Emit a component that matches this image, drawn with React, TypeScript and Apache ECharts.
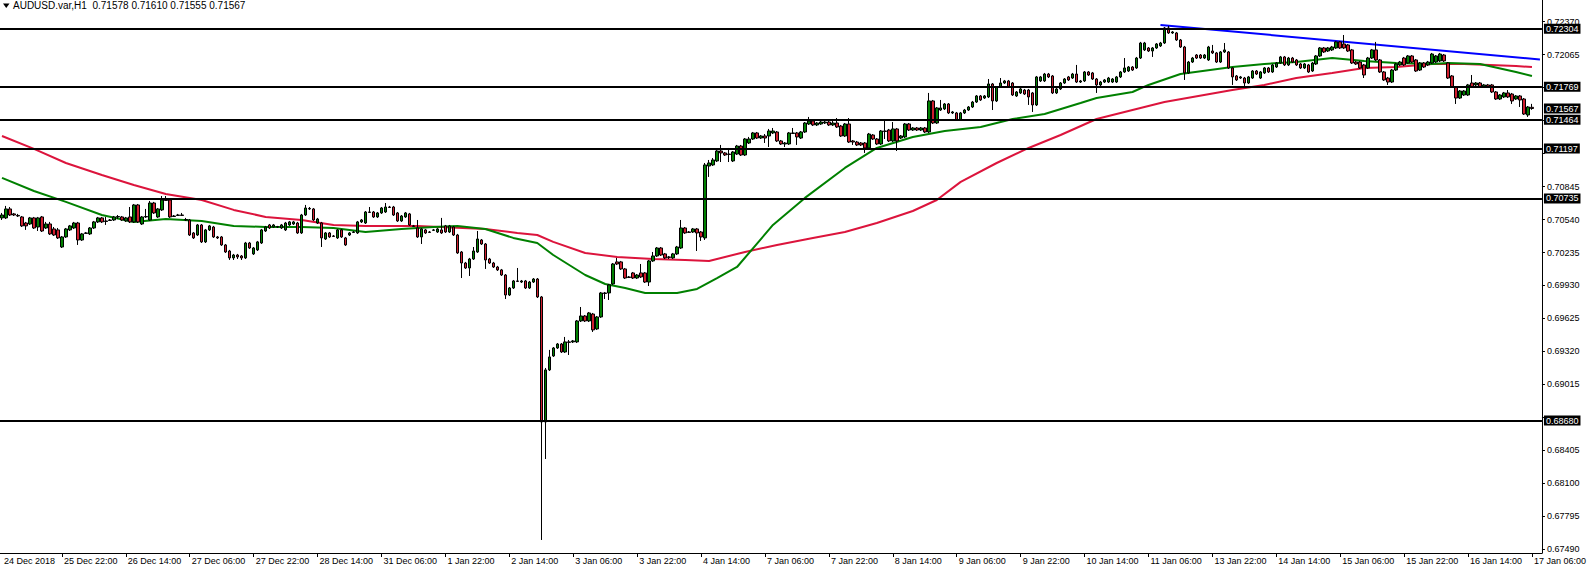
import React, { useEffect, useRef } from "react";
import * as echarts from "echarts";

const chartTitle = "AUDUSD.var,H1  0.71578 0.71610 0.71555 0.71567";

// time labels: first at slot 0, then every 16 hourly bars starting at slot 15
const timeLabels = [
  "24 Dec 2018", "25 Dec 22:00", "26 Dec 14:00", "27 Dec 06:00", "27 Dec 22:00",
  "28 Dec 14:00", "31 Dec 06:00", "1 Jan 22:00", "2 Jan 14:00", "3 Jan 06:00",
  "3 Jan 22:00", "4 Jan 14:00", "7 Jan 06:00", "7 Jan 22:00", "8 Jan 14:00",
  "9 Jan 06:00", "9 Jan 22:00", "10 Jan 14:00", "11 Jan 06:00", "13 Jan 22:00",
  "14 Jan 14:00", "15 Jan 06:00", "15 Jan 22:00", "16 Jan 14:00", "17 Jan 06:00",
];
const slotCount = 386;
const firstLabelSlot = 15;
const labelStep = 16;

// price grid ticks; labels hidden where the level boxes cover them in the reference
const priceTicks = [
  0.6749, 0.67795, 0.681, 0.68405, 0.6871, 0.69015, 0.6932, 0.69625, 0.6993,
  0.70235, 0.7054, 0.70845, 0.7115, 0.71455, 0.7176, 0.72065, 0.7237,
];
const priceLabels = [
  0.6749, 0.67795, 0.681, 0.68405, 0.69015, 0.6932, 0.69625, 0.6993,
  0.70235, 0.7054, 0.70845, 0.72065, 0.7237,
];
const yMin = 0.674555;
const yMax = 0.725707;

const levelLines = [0.72304, 0.71769, 0.71464, 0.71197, 0.70735, 0.6868];
const lastPrice = 0.71567;

// [open, close, low, high]
const candles: number[][] = [
  [.70555,.70582,.70536,.70601],[.70555,.70638,.70545,.70666],[.70638,.70582,.70573,.70656],[.70592,.70582,.70573,.70601],
  [.70578,.70573,.70564,.70592],[.70564,.70481,.70471,.70573],[.70508,.70481,.70444,.70518],[.70499,.70555,.70490,.70564],
  [.70555,.70462,.70453,.70564],[.70471,.70555,.70434,.70564],[.70564,.70434,.70425,.70573],[.70462,.70499,.70453,.70518],
  [.70499,.70407,.70397,.70518],[.70453,.70397,.70388,.70471],[.70444,.70370,.70360,.70462],[.70286,.70379,.70277,.70388],
  [.70379,.70453,.70370,.70462],[.70444,.70481,.70434,.70490],[.70462,.70508,.70453,.70518],[.70508,.70351,.70305,.70518],
  [.70351,.70407,.70342,.70416],[.70412,.70416,.70407,.70425],[.70407,.70462,.70397,.70471],[.70462,.70518,.70453,.70527],
  [.70518,.70555,.70508,.70564],[.70555,.70518,.70508,.70564],[.70522,.70527,.70490,.70564],[.70531,.70536,.70527,.70545],
  [.70536,.70564,.70527,.70573],[.70564,.70568,.70545,.70582],[.70564,.70536,.70527,.70573],[.70527,.70555,.70518,.70564],
  [.70564,.70518,.70508,.70656],[.70518,.70675,.70508,.70684],[.70675,.70518,.70508,.70684],[.70499,.70564,.70490,.70573],
  [.70564,.70568,.70555,.70638],[.70536,.70693,.70527,.70712],[.70693,.70601,.70592,.70703],[.70564,.70638,.70555,.70647],
  [.70629,.70721,.70619,.70758],[.70721,.70717,.70712,.70758],[.70721,.70564,.70555,.70730],[.70568,.70573,.70564,.70582],
  [.70578,.70582,.70573,.70592],[.70582,.70578,.70573,.70601],[.70536,.70540,.70527,.70555],[.70536,.70397,.70388,.70545],
  [.70416,.70370,.70360,.70425],[.70397,.70490,.70388,.70499],[.70490,.70333,.70323,.70499],[.70333,.70444,.70323,.70453],
  [.70444,.70481,.70434,.70490],[.70471,.70379,.70370,.70481],[.70379,.70370,.70360,.70388],[.70379,.70305,.70296,.70388],
  [.70305,.70240,.70231,.70314],[.70249,.70185,.70166,.70259],[.70185,.70212,.70166,.70222],[.70212,.70194,.70175,.70222],
  [.70203,.70185,.70166,.70212],[.70185,.70323,.70175,.70333],[.70323,.70277,.70268,.70333],[.70222,.70277,.70212,.70286],
  [.70259,.70333,.70249,.70342],[.70323,.70444,.70314,.70453],[.70434,.70471,.70425,.70481],[.70490,.70462,.70453,.70499],
  [.70471,.70490,.70462,.70499],[.70471,.70475,.70462,.70481],[.70462,.70490,.70453,.70499],[.70444,.70508,.70434,.70518],
  [.70490,.70518,.70481,.70527],[.70499,.70518,.70490,.70527],[.70508,.70416,.70407,.70518],[.70416,.70582,.70407,.70592],
  [.70582,.70647,.70573,.70675],[.70643,.70638,.70629,.70656],[.70638,.70536,.70527,.70647],[.70508,.70545,.70499,.70555],
  [.70508,.70370,.70286,.70518],[.70360,.70416,.70351,.70425],[.70416,.70379,.70370,.70425],[.70388,.70384,.70379,.70397],
  [.70370,.70444,.70360,.70453],[.70444,.70379,.70370,.70453],[.70370,.70305,.70296,.70379],[.70397,.70416,.70388,.70425],
  [.70421,.70425,.70416,.70434],[.70416,.70518,.70407,.70527],[.70518,.70536,.70508,.70545],[.70508,.70610,.70499,.70619],
  [.70610,.70606,.70601,.70656],[.70610,.70564,.70555,.70619],[.70564,.70601,.70555,.70610],[.70601,.70647,.70592,.70656],
  [.70610,.70656,.70601,.70693],[.70656,.70652,.70647,.70666],[.70656,.70582,.70573,.70666],[.70601,.70527,.70518,.70610],
  [.70527,.70573,.70518,.70582],[.70564,.70601,.70555,.70610],[.70592,.70490,.70481,.70601],[.70481,.70477,.70471,.70490],
  [.70462,.70379,.70370,.70536],[.70379,.70453,.70314,.70462],[.70444,.70416,.70407,.70453],[.70425,.70421,.70416,.70434],
  [.70440,.70444,.70434,.70453],[.70425,.70453,.70416,.70462],[.70444,.70416,.70407,.70555],[.70481,.70425,.70416,.70490],
  [.70425,.70481,.70416,.70490],[.70471,.70397,.70388,.70481],[.70397,.70231,.70222,.70407],[.70240,.70138,.69999,.70249],
  [.70138,.70092,.70083,.70148],[.70092,.70175,.70018,.70185],[.70175,.70249,.70166,.70286],[.70240,.70360,.70231,.70434],
  [.70351,.70314,.70305,.70360],[.70314,.70166,.70083,.70323],[.70175,.70138,.70129,.70185],[.70138,.70101,.70092,.70148],
  [.70101,.70074,.70064,.70111],[.70074,.70027,.70018,.70083],[.70027,.69842,.69805,.70036],[.69842,.69907,.69833,.69916],
  [.69907,.69972,.69898,.69981],[.69972,.69968,.69962,.70092],[.69962,.69972,.69953,.69981],[.69972,.69907,.69898,.69981],
  [.69907,.69962,.69898,.69972],[.69962,.69990,.69953,.69999],[.69990,.69824,.69814,.69999],[.69824,.68668,.67576,.69833],
  [.68668,.69149,.68325,.69167],[.69149,.69269,.69139,.69334],[.69278,.69352,.69269,.69361],[.69352,.69389,.69343,.69398],
  [.69389,.69315,.69306,.69398],[.69315,.69408,.69306,.69454],[.69408,.69404,.69287,.69426],[.69408,.69417,.69398,.69426],
  [.69408,.69602,.69398,.69611],[.69602,.69648,.69592,.69731],[.69648,.69602,.69592,.69657],[.69602,.69676,.69592,.69685],
  [.69666,.69519,.69500,.69676],[.69528,.69639,.69519,.69648],[.69639,.69861,.69630,.69870],[.69861,.69856,.69805,.69870],
  [.69861,.69935,.69796,.69944],[.69944,.70129,.69935,.70138],[.70148,.70129,.70120,.70185],[.70148,.70083,.70074,.70157],
  [.70083,.69999,.69990,.70092],[.70009,.70004,.69999,.70018],[.70046,.69999,.69990,.70055],[.69999,.70027,.69990,.70036],
  [.70046,.70009,.69999,.70129],[.70046,.69962,.69953,.70055],[.69962,.70157,.69925,.70166],[.70157,.70203,.70148,.70240],
  [.70203,.70277,.70194,.70286],[.70277,.70212,.70203,.70286],[.70222,.70185,.70175,.70231],[.70194,.70190,.70175,.70203],
  [.70185,.70222,.70175,.70231],[.70222,.70286,.70212,.70296],[.70277,.70462,.70268,.70536],[.70462,.70416,.70407,.70471],
  [.70425,.70421,.70416,.70434],[.70425,.70453,.70416,.70462],[.70453,.70416,.70249,.70462],[.70425,.70379,.70342,.70434],
  [.70370,.71045,.70351,.71063],[.71035,.71063,.70934,.71091],[.71045,.71091,.71035,.71109],[.71082,.71174,.71072,.71183],
  [.71174,.71156,.71072,.71230],[.71156,.71137,.71128,.71165],[.71146,.71142,.71072,.71202],[.71082,.71165,.71072,.71174],
  [.71146,.71220,.71137,.71230],[.71220,.71137,.71128,.71230],[.71137,.71285,.71128,.71294],[.71248,.71285,.71239,.71304],
  [.71285,.71341,.71276,.71350],[.71341,.71294,.71285,.71350],[.71294,.71313,.71285,.71322],[.71313,.71294,.71248,.71331],
  [.71313,.71359,.71211,.71378],[.71341,.71359,.71331,.71387],[.71350,.71267,.71257,.71359],[.71267,.71239,.71230,.71276],
  [.71239,.71248,.71211,.71257],[.71239,.71341,.71230,.71350],[.71341,.71336,.71331,.71387],[.71341,.71304,.71230,.71350],
  [.71294,.71350,.71285,.71359],[.71350,.71433,.71341,.71442],[.71424,.71452,.71415,.71489],[.71452,.71415,.71405,.71461],
  [.71415,.71433,.71405,.71442],[.71424,.71442,.71415,.71452],[.71433,.71442,.71424,.71452],[.71442,.71415,.71405,.71452],
  [.71415,.71433,.71405,.71470],[.71433,.71396,.71387,.71479],[.71405,.71313,.71304,.71415],[.71313,.71424,.71304,.71433],
  [.71424,.71257,.71248,.71479],[.71267,.71257,.71230,.71276],[.71257,.71230,.71220,.71267],[.71248,.71230,.71220,.71257],
  [.71248,.71202,.71156,.71257],[.71202,.71331,.71193,.71341],[.71322,.71285,.71276,.71331],[.71285,.71239,.71230,.71294],
  [.71239,.71359,.71230,.71368],[.71359,.71355,.71285,.71452],[.71368,.71267,.71257,.71378],[.71267,.71378,.71257,.71442],
  [.71378,.71267,.71174,.71387],[.71294,.71313,.71285,.71322],[.71304,.71424,.71294,.71433],[.71424,.71368,.71359,.71433],
  [.71368,.71387,.71359,.71396],[.71387,.71368,.71359,.71396],[.71368,.71387,.71359,.71396],[.71387,.71350,.71341,.71396],
  [.71350,.71637,.71341,.71711],[.71637,.71433,.71424,.71646],[.71433,.71572,.71424,.71581],[.71553,.71572,.71544,.71646],
  [.71563,.71609,.71553,.71618],[.71609,.71526,.71516,.71618],[.71526,.71535,.71516,.71544],[.71526,.71461,.71452,.71535],
  [.71461,.71526,.71452,.71535],[.71526,.71553,.71516,.71563],[.71553,.71581,.71544,.71590],[.71581,.71627,.71572,.71637],
  [.71627,.71683,.71618,.71692],[.71683,.71646,.71637,.71692],[.71664,.71683,.71655,.71692],[.71674,.71794,.71664,.71840],
  [.71794,.71637,.71553,.71803],[.71637,.71766,.71627,.71775],[.71766,.71803,.71757,.71849],[.71803,.71822,.71794,.71831],
  [.71822,.71766,.71757,.71831],[.71803,.71692,.71683,.71812],[.71683,.71720,.71674,.71729],[.71711,.71748,.71701,.71757],
  [.71738,.71701,.71692,.71748],[.71738,.71674,.71600,.71748],[.71711,.71600,.71535,.71720],[.71600,.71859,.71590,.71868],
  [.71822,.71859,.71812,.71868],[.71822,.71886,.71812,.71896],[.71886,.71859,.71849,.71896],[.71868,.71711,.71701,.71877],
  [.71711,.71748,.71701,.71757],[.71748,.71803,.71738,.71812],[.71803,.71840,.71794,.71849],[.71859,.71831,.71822,.71868],
  [.71849,.71886,.71840,.71896],[.71886,.71812,.71803,.71970],[.71812,.71822,.71803,.71831],[.71822,.71905,.71812,.71914],
  [.71905,.71877,.71868,.71914],[.71896,.71840,.71831,.71905],[.71840,.71785,.71711,.71849],[.71785,.71812,.71775,.71822],
  [.71812,.71831,.71803,.71840],[.71812,.71849,.71803,.71859],[.71812,.71840,.71803,.71849],[.71812,.71859,.71803,.71868],
  [.71859,.71905,.71849,.71914],[.71905,.71942,.71896,.72034],[.71914,.71951,.71905,.71960],[.71951,.71923,.71914,.71960],
  [.71942,.72034,.71933,.72044],[.72034,.72173,.72025,.72183],[.72109,.72173,.72099,.72183],[.72127,.72099,.72090,.72136],
  [.72099,.72127,.72044,.72136],[.72127,.72164,.72118,.72173],[.72146,.72173,.72136,.72183],[.72173,.72312,.72164,.72321],
  [.72312,.72266,.72257,.72331],[.72266,.72275,.72257,.72284],[.72266,.72201,.72192,.72275],[.72201,.72136,.72127,.72210],
  [.72136,.71896,.71831,.72146],[.71896,.71997,.71886,.72007],[.71997,.72034,.71988,.72044],[.72062,.72034,.72025,.72071],
  [.72062,.72034,.72025,.72071],[.72034,.72062,.72025,.72071],[.72016,.72136,.72007,.72146],[.72099,.72081,.72071,.72155],
  [.72081,.71997,.71988,.72090],[.71997,.72090,.71988,.72099],[.72090,.72109,.72081,.72173],[.72090,.71942,.71933,.72099],
  [.71942,.71859,.71785,.71951],[.71868,.71831,.71822,.71877],[.71849,.71859,.71840,.71868],[.71849,.71803,.71766,.71859],
  [.71803,.71859,.71794,.71868],[.71849,.71914,.71840,.71923],[.71914,.71886,.71877,.71923],[.71849,.71905,.71840,.71914],
  [.71896,.71942,.71886,.71951],[.71942,.71905,.71896,.71951],[.71905,.71970,.71896,.71979],[.71951,.71988,.71942,.71997],
  [.71988,.72044,.71979,.72053],[.72044,.71970,.71960,.72053],[.71970,.72034,.71960,.72044],[.72034,.71997,.71988,.72044],
  [.72016,.71970,.71960,.72025],[.71979,.71942,.71933,.71988],[.71942,.71979,.71933,.71988],[.71970,.71905,.71896,.71979],
  [.71914,.71988,.71905,.71997],[.71979,.72053,.71970,.72062],[.72053,.72127,.72044,.72136],[.72127,.72090,.72081,.72136],
  [.72099,.72127,.72090,.72136],[.72109,.72136,.72099,.72146],[.72127,.72183,.72118,.72192],[.72183,.72127,.72118,.72192],
  [.72164,.72127,.72118,.72247],[.72155,.72099,.72090,.72164],[.72109,.71988,.71979,.72118],[.71997,.71979,.71970,.72007],
  [.71997,.71942,.71933,.72007],[.71970,.71877,.71849,.71979],[.71942,.72034,.71933,.72044],[.72034,.72109,.72025,.72118],
  [.72109,.72016,.72007,.72183],[.72016,.71905,.71896,.72025],[.71905,.71831,.71822,.71914],[.71849,.71812,.71785,.71859],
  [.71812,.71923,.71803,.71933],[.71923,.71979,.71914,.71988],[.71970,.71997,.71960,.72007],[.72034,.71970,.71960,.72044],
  [.71988,.72053,.71979,.72062],[.72053,.71997,.71988,.72062],[.72016,.71914,.71905,.72025],[.71923,.71988,.71914,.71997],
  [.71988,.71951,.71942,.71997],[.71970,.71997,.71960,.72007],[.71988,.72071,.71979,.72081],[.71997,.72053,.71988,.72062],
  [.72007,.72071,.71997,.72081],[.72062,.72007,.71997,.72071],[.71988,.71849,.71840,.71997],[.71868,.71766,.71757,.71877],
  [.71766,.71664,.71609,.71775],[.71664,.71729,.71655,.71738],[.71692,.71729,.71683,.71738],[.71692,.71785,.71683,.71794],
  [.71803,.71766,.71757,.71877],[.71785,.71803,.71775,.71812],[.71803,.71766,.71757,.71812],[.71766,.71785,.71757,.71794],
  [.71785,.71766,.71757,.71794],[.71785,.71720,.71711,.71794],[.71720,.71655,.71646,.71729],[.71655,.71692,.71646,.71701],
  [.71674,.71711,.71664,.71720],[.71711,.71674,.71664,.71738],[.71701,.71637,.71609,.71711],[.71655,.71683,.71646,.71692],
  [.71683,.71646,.71581,.71692],[.71655,.71516,.71507,.71664],[.71507,.71581,.71489,.71590],[.71578,.71567,.71555,.71610],
];

// moving averages: [slot, price]
const slowMA: number[][] = [
  [0,.71313],[8,.71193],[16,.71063],[25,.70952],[33,.70860],[41,.70777],[50,.70721],[58,.70629],
  [66,.70564],[75,.70536],[83,.70490],[91,.70481],[104,.70481],[121,.70453],[129,.70416],[134,.70397],
  [138,.70333],[146,.70231],[154,.70194],[163,.70175],[171,.70166],[177,.70157],[186,.70240],[194,.70305],
  [203,.70370],[211,.70425],[219,.70508],[228,.70619],[234,.70721],[240,.70888],[249,.71063],[257,.71202],
  [265,.71322],[274,.71470],[291,.71627],[308,.71738],[316,.71785],[324,.71849],[333,.71896],[341,.71942],
  [349,.71951],[358,.71979],[366,.71979],[379,.71960],[383,.71951],
];
const fastMA: number[][] = [
  [0,.70925],[8,.70804],[16,.70703],[25,.70582],[33,.70518],[41,.70545],[50,.70527],[58,.70481],
  [66,.70471],[75,.70471],[83,.70462],[91,.70425],[100,.70453],[108,.70471],[114,.70481],[121,.70453],
  [128,.70370],[134,.70323],[138,.70212],[146,.70027],[151,.69944],[156,.69907],[161,.69861],[169,.69861],
  [174,.69898],[179,.69999],[184,.70101],[193,.70490],[201,.70740],[211,.71017],[219,.71202],[228,.71304],
  [236,.71359],[245,.71396],[253,.71470],[261,.71516],[270,.71618],[274,.71664],[283,.71720],[287,.71785],
  [295,.71886],[308,.71951],[316,.71979],[324,.71997],[333,.72034],[341,.72007],[349,.71988],[358,.71979],
  [362,.71988],[370,.71979],[379,.71905],[383,.71868],
];
const trendLine: number[][] = [[290, .72340], [385, .72021]];

const FONT = "'Liberation Sans', Arial, sans-serif";

export default function App() {
  const ref = useRef<HTMLDivElement>(null);

  useEffect(() => {
    if (!ref.current) return;
    const chart = echarts.init(ref.current, undefined, { renderer: "svg" });
    const categories = Array.from({ length: slotCount }, (_, i) => String(i));
    const isLabelSlot = (i: number) =>
      i === 0 || (i >= firstLabelSlot && (i - firstLabelSlot) % labelStep === 0);
    const labelFor = (i: number) =>
      i === 0 ? timeLabels[0] : timeLabels[(i - firstLabelSlot) / labelStep + 1];

    chart.setOption({
      animation: false,
      backgroundColor: "#ffffff",
      title: {
        text: chartTitle,
        left: 13,
        top: 0,
        padding: [0, 0, 0, 0],
        textStyle: { fontSize: 10, fontWeight: "normal", color: "#000", fontFamily: FONT },
      },
      graphic: [
        {
          type: "polygon",
          shape: { points: [[3, 3.5], [9.5, 3.5], [6.25, 8]] },
          style: { fill: "#000" },
        },
      ],
      grid: { left: 0, top: 0, right: 44, bottom: 17, containLabel: false },
      xAxis: {
        type: "category",
        data: categories,
        boundaryGap: true,
        axisLine: { show: true, lineStyle: { color: "#000", width: 1 } },
        axisTick: {
          show: true,
          alignWithLabel: true,
          interval: (i: number) => i !== 0 && isLabelSlot(i),
          length: 4,
          lineStyle: { color: "#000" },
        },
        axisLabel: {
          interval: (i: number) => isLabelSlot(i),
          formatter: (_v: string, i: number) => labelFor(i),
          align: "left",
          margin: 3,
          padding: [0, 0, 0, 2],
          fontSize: 9,
          color: "#000",
          fontFamily: FONT,
        },
        splitLine: { show: false },
      },
      yAxis: {
        type: "value",
        position: "right",
        min: yMin,
        max: yMax,
        axisLine: { show: true, lineStyle: { color: "#000", width: 1 } },
        axisTick: { show: true, length: 3, customValues: priceTicks, lineStyle: { color: "#000" } },
        axisLabel: {
          customValues: priceLabels,
          formatter: (v: number) => v.toFixed(5),
          fontSize: 9,
          color: "#000",
          margin: 5,
          fontFamily: FONT,
        },
        splitLine: { show: false },
      },
      series: [
        {
          type: "line",
          data: slowMA,
          showSymbol: false,
          lineStyle: { color: "#dc143c", width: 2 },
          itemStyle: { color: "#dc143c" },
          silent: true,
          z: 2,
        },
        {
          type: "line",
          data: fastMA,
          showSymbol: false,
          lineStyle: { color: "#008000", width: 2 },
          itemStyle: { color: "#008000" },
          silent: true,
          z: 2,
        },
        {
          type: "line",
          data: trendLine,
          showSymbol: false,
          lineStyle: { color: "#0000ff", width: 2 },
          itemStyle: { color: "#0000ff" },
          silent: true,
          z: 2,
        },
        {
          type: "candlestick",
          data: candles,
          barWidth: 3,
          silent: true,
          z: 3,
          itemStyle: {
            color: "#008000",
            color0: "#d01e2e",
            borderColor: "#000000",
            borderColor0: "#000000",
            borderColorDoji: "#000000",
            borderWidth: 1,
          },
          markLine: {
            silent: true,
            precision: 5,
            symbol: ["none", "none"],
            animation: false,
            lineStyle: { color: "#000", width: 2, type: "solid" },
            label: {
              show: true,
              position: "end",
              distance: 2,
              formatter: (p: any) => Number(p.value).toFixed(5),
              color: "#fff",
              backgroundColor: "#000",
              padding: [1, 2, 0, 2],
              fontSize: 9,
              fontFamily: FONT,
            },
            emphasis: { disabled: true },
            data: [
              ...levelLines.map((v) => ({ yAxis: v })),
              { yAxis: lastPrice, lineStyle: { color: "rgba(0,0,0,0)", width: 0 } },
            ],
          },
        },
      ],
    });
    return () => chart.dispose();
  }, []);

  return (
    <div
      ref={ref}
      style={{ position: "absolute", left: 0, top: 0, width: 1589, height: 570 }}
    />
  );
}
